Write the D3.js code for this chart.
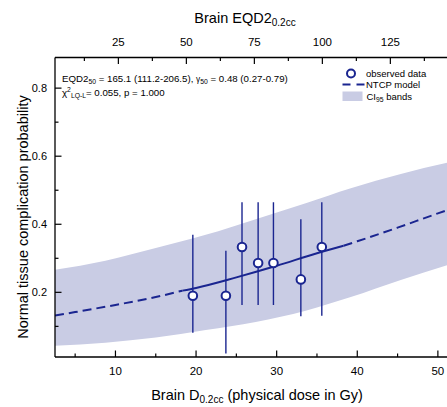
<!DOCTYPE html>
<html>
<head>
<meta charset="utf-8">
<script src="https://cdn.jsdelivr.net/npm/d3@7"></script>
<style>
  html, body { margin: 0; padding: 0; background: #fff; }
  svg { display: block; font-family: "Liberation Sans", Arial, sans-serif; }
</style>
</head>
<body>
<svg id="chart" width="447" height="407"></svg>
<script>
// ---- data ----
const obsDose   = [19.6, 23.7, 25.7, 27.7, 29.6, 33.0, 35.6];
const obsNtcp   = [0.190, 0.190, 0.333, 0.286, 0.286, 0.238, 0.333];
const obsLow    = [0.081, 0.020, 0.163, 0.163, 0.163, 0.130, 0.131];
const obsHigh   = [0.369, 0.322, 0.465, 0.465, 0.465, 0.415, 0.465];

const modelDose = [2.5, 5, 10, 15, 18.3, 20, 25, 30, 35, 38.3, 40, 45, 50, 52];
const modelNtcp = [0.132, 0.142, 0.163, 0.186, 0.205, 0.213, 0.244, 0.278, 0.315, 0.337, 0.350, 0.390, 0.432, 0.448];
const solidRange = [18.3, 38.3];

const bandDose  = [2.5, 8.75, 15, 21.2, 27.4, 33.6, 39.2, 45.4, 52];
const bandUpper = [0.266, 0.293, 0.330, 0.369, 0.415, 0.462, 0.506, 0.548, 0.585];
const bandLower = [0.043, 0.052, 0.067, 0.089, 0.113, 0.146, 0.186, 0.236, 0.286];

const xTicks = [10, 20, 30, 40, 50];
const xMinor = [5, 15, 25, 35, 45];
const topTicks = [25, 50, 75, 100, 125];
const topMinor = [12.5, 37.5, 62.5, 87.5, 112.5, 137.5];
const yTicks = [0.2, 0.4, 0.6, 0.8];
const yMinor = [0.1, 0.3, 0.5, 0.7];

const navy = "#1a2590";
const bandColor = "#c9cce4";

(function () {
// ---- layout ----
const svg = d3.select("#chart");
const pL = 55, pR = 454, pT = 57.5, pB = 357;

const x = d3.scaleLinear().domain([2.5, 52]).range([pL, pR]);
const xTop = d3.scaleLinear().domain([1.7, 148.4]).range([pL, pR]);
const y = d3.scaleLinear().domain([0.01, 0.89]).range([pB, pT]);

svg.append("defs").append("clipPath").attr("id", "clip")
  .append("rect").attr("x", pL).attr("y", pT).attr("width", 447 - pL).attr("height", pB - pT);

const plot = svg.append("g").attr("clip-path", "url(#clip)");

// band
const band = bandDose.map((d, i) => ({d, lo: bandLower[i], hi: bandUpper[i]}));
plot.append("path")
  .datum(band)
  .attr("fill", bandColor)
  .attr("d", d3.area().x(p => x(p.d)).y0(p => y(p.lo)).y1(p => y(p.hi)).curve(d3.curveMonotoneX));

// model line
const model = modelDose.map((d, i) => ({d, p: modelNtcp[i]}));
const line = d3.line().x(p => x(p.d)).y(p => y(p.p)).curve(d3.curveMonotoneX);
plot.append("path").datum(model.filter(p => p.d <= solidRange[0]))
  .attr("fill", "none").attr("stroke", navy).attr("stroke-width", 2).attr("stroke-dasharray", "9,5").attr("d", line);
plot.append("path").datum(model.filter(p => p.d >= solidRange[1]))
  .attr("fill", "none").attr("stroke", navy).attr("stroke-width", 2).attr("stroke-dasharray", "9,5").attr("d", line);
plot.append("path").datum(model.filter(p => p.d >= solidRange[0] && p.d <= solidRange[1]))
  .attr("fill", "none").attr("stroke", navy).attr("stroke-width", 2).attr("d", line);

// error bars
const obs = obsDose.map((d, i) => ({d, p: obsNtcp[i], lo: obsLow[i], hi: obsHigh[i]}));
plot.selectAll(".eb").data(obs).enter().append("line")
  .attr("x1", o => x(o.d)).attr("x2", o => x(o.d))
  .attr("y1", o => y(o.lo)).attr("y2", o => y(o.hi))
  .attr("stroke", navy).attr("stroke-width", 1.4);
plot.selectAll(".pt").data(obs).enter().append("circle")
  .attr("cx", o => x(o.d)).attr("cy", o => y(o.p)).attr("r", 4.3)
  .attr("fill", "white").attr("stroke", navy).attr("stroke-width", 2);

// ---- axes ----
const ax = svg.append("g").attr("fill", "none").attr("stroke", "#000");
ax.append("line").attr("x1", pL).attr("x2", 447).attr("y1", pB).attr("y2", pB).attr("stroke-width", 1.3);
ax.append("line").attr("x1", pL).attr("x2", 447).attr("y1", pT).attr("y2", pT).attr("stroke-width", 1.3);
ax.append("line").attr("x1", pL).attr("x2", pL).attr("y1", pT).attr("y2", pB).attr("stroke-width", 1.3);

const major = 6.5, minor = 3.5;
xTicks.forEach(t => ax.append("line").attr("x1", x(t)).attr("x2", x(t)).attr("y1", pB).attr("y2", pB - major).attr("stroke-width", 1.2));
xMinor.forEach(t => ax.append("line").attr("x1", x(t)).attr("x2", x(t)).attr("y1", pB).attr("y2", pB - minor).attr("stroke-width", 1.2));
topTicks.forEach(t => ax.append("line").attr("x1", xTop(t)).attr("x2", xTop(t)).attr("y1", pT).attr("y2", pT + major).attr("stroke-width", 1.2));
topMinor.forEach(t => ax.append("line").attr("x1", xTop(t)).attr("x2", xTop(t)).attr("y1", pT).attr("y2", pT + minor).attr("stroke-width", 1.2));
yTicks.forEach(t => ax.append("line").attr("x1", pL).attr("x2", pL + major).attr("y1", y(t)).attr("y2", y(t)).attr("stroke-width", 1.2));
yMinor.forEach(t => ax.append("line").attr("x1", pL).attr("x2", pL + minor).attr("y1", y(t)).attr("y2", y(t)).attr("stroke-width", 1.2));

const txt = svg.append("g").attr("fill", "#000");
xTicks.forEach(t => txt.append("text").attr("x", x(t)).attr("y", 375).attr("text-anchor", "middle").attr("font-size", 11.5).text(t));
topTicks.forEach(t => txt.append("text").attr("x", xTop(t)).attr("y", 46).attr("text-anchor", "middle").attr("font-size", 11.5).text(t));
yTicks.forEach(t => txt.append("text").attr("x", 47).attr("y", y(t) + 4).attr("text-anchor", "end").attr("font-size", 11).text(d3.format(".1f")(t)));

// axis titles
const bt = txt.append("text").attr("x", 257).attr("y", 400).attr("text-anchor", "middle").attr("font-size", 14.5);
bt.append("tspan").text("Brain D");
bt.append("tspan").attr("font-size", 10).attr("dy", 3).text("0.2cc");
bt.append("tspan").attr("dy", -3).text(" (physical dose in Gy)");

const tt = txt.append("text").attr("x", 245).attr("y", 22.5).attr("text-anchor", "middle").attr("font-size", 14.5);
tt.append("tspan").text("Brain EQD2");
tt.append("tspan").attr("font-size", 10).attr("dy", 3).text("0.2cc");

txt.append("text").attr("transform", "translate(27.5,217) rotate(-90)").attr("text-anchor", "middle")
  .attr("font-size", 14.5).text("Normal tissue complication probability");

// annotation
const a1 = txt.append("text").attr("x", 62).attr("y", 82).attr("font-size", 9.7);
a1.append("tspan").text("EQD2");
a1.append("tspan").attr("font-size", 6.8).attr("dy", 2).text("50");
a1.append("tspan").attr("dy", -2).text(" = 165.1 (111.2-206.5), ");
a1.append("tspan").attr("font-size", 8.3).text("γ");
a1.append("tspan").attr("font-size", 6.8).attr("dy", 2).text("50");
a1.append("tspan").attr("dy", -2).text(" = 0.48 (0.27-0.79)");

const a2 = txt.append("text").attr("x", 62).attr("y", 96).attr("font-size", 9.7);
a2.append("tspan").text("χ");
a2.append("tspan").attr("font-size", 6.8).attr("dy", -4).text("2");
a2.append("tspan").attr("font-size", 6.8).attr("dy", 6).text("LQ-L");
a2.append("tspan").attr("dy", -2).text("= 0.055, p = 1.000");

// legend
const lg = svg.append("g");
lg.append("circle").attr("cx", 351).attr("cy", 73.5).attr("r", 4).attr("fill", "white").attr("stroke", navy).attr("stroke-width", 2);
lg.append("text").attr("x", 366).attr("y", 77).attr("font-size", 9.5).text("observed data");
lg.append("line").attr("x1", 342.5).attr("x2", 366).attr("y1", 84.5).attr("y2", 84.5)
  .attr("stroke", navy).attr("stroke-width", 2).attr("stroke-dasharray", "8,6");
lg.append("text").attr("x", 366).attr("y", 88).attr("font-size", 9.5).text("NTCP model");
lg.append("rect").attr("x", 342.5).attr("y", 91.5).attr("width", 20).attr("height", 9.5).attr("fill", bandColor);
const l3 = lg.append("text").attr("x", 366.5).attr("y", 99.5).attr("font-size", 9.5);
l3.append("tspan").text("CI");
l3.append("tspan").attr("font-size", 6.8).attr("dy", 2).text("95");
l3.append("tspan").attr("dy", -2).text(" bands");
})();
</script>
</body>
</html>
